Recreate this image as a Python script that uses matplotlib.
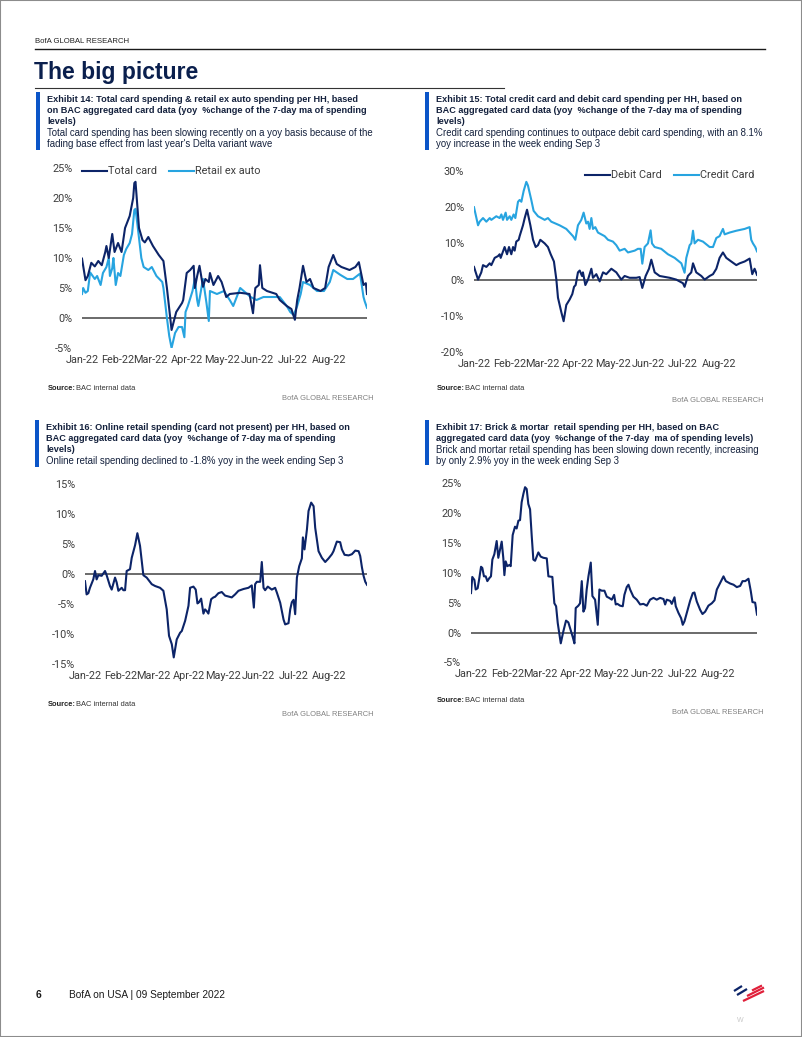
import numpy as np
import pandas as pd
import matplotlib
matplotlib.use('Agg')
import matplotlib.pyplot as plt
from matplotlib import font_manager
from matplotlib.lines import Line2D
from matplotlib.patches import Rectangle
from matplotlib.ticker import FuncFormatter

W, H = 802, 1037

# ---- data (days since 1 Jan 2022, yoy % change) ----
total_card_days = [0, 3, 5, 8, 11, 14, 17, 20, 21, 23, 26, 28, 31, 34, 37, 38, 41, 42, 44, 45,
                   46, 49, 52, 54, 57, 61, 66, 70, 73, 77, 81, 86, 87, 90, 93, 96, 97, 99, 101, 104,
                   106, 109, 110, 113, 117, 120, 124, 127, 136, 144, 147, 149, 152, 153, 155, 159, 167, 170, 176, 180,
                   183, 185, 187, 190, 193, 196, 199, 205, 209, 212, 216, 219, 223, 230, 235, 238, 242, 244, 245]
total_card_vals = [9.9, 6.3, 7.0, 9.2, 8.6, 9.5, 8.8, 11.0, 12.0, 10.0, 14.0, 11.0, 12.5, 11.0, 15.0, 15.5, 17.0, 18.0, 20.0, 22.5,
                   22.7, 15.0, 13.0, 12.6, 13.5, 12.0, 10.5, 9.5, 5.0, -2.0, 1.0, 2.5, 3.0, 7.5, 8.0, 8.7, 5.0, 7.0, 8.7, 5.2,
                   6.5, 6.0, 7.5, 5.5, 7.0, 6.0, 3.5, 4.0, 4.2, 4.0, 0.8, 5.0, 5.5, 8.8, 5.0, 4.5, 4.0, 3.0, 2.0, 1.5,
                   -0.3, 3.0, 5.0, 8.7, 6.0, 6.5, 5.0, 4.5, 5.0, 8.5, 10.5, 9.0, 8.5, 8.0, 8.5, 9.3, 5.5, 5.8, 4.0]

retail_days = [0, 1, 3, 5, 7, 11, 13, 16, 18, 21, 23, 24, 26, 27, 29, 31, 33, 36, 38, 41,
               43, 45, 46, 48, 51, 53, 57, 60, 64, 69, 70, 73, 75, 77, 80, 83, 86, 88, 89, 91,
               95, 97, 99, 100, 104, 107, 109, 110, 116, 122, 127, 130, 133, 136, 139, 145, 150, 156, 170, 176,
               179, 182, 185, 188, 190, 196, 202, 208, 213, 216, 222, 228, 233, 239, 242, 243, 245]
retail_vals = [4.0, 5.0, 4.2, 4.5, 7.6, 6.5, 7.0, 5.5, 7.5, 8.5, 10.0, 7.0, 8.3, 10.0, 5.5, 7.5, 7.0, 10.5, 11.5, 12.5,
               14.0, 18.0, 18.2, 15.0, 10.0, 8.5, 8.0, 8.5, 7.0, 6.0, 5.0, 0.0, -3.0, -5.0, -2.5, -1.5, -1.5, -3.2, 1.0, 2.0,
               4.5, 6.5, 3.0, 2.0, 6.5, 2.5, -0.5, 4.5, 4.0, 4.5, 3.0, 2.0, 3.5, 5.0, 4.5, 3.5, 3.0, 3.5, 3.5, 2.0,
               1.0, 0.5, 2.0, 4.0, 6.0, 5.5, 4.5, 4.5, 6.0, 8.0, 7.2, 6.5, 6.5, 7.4, 3.5, 2.8, 1.7]

debit_days = [0, 3.5, 4.9, 6.3, 7.8, 10.7, 13.6, 15.0, 17.9, 20.8, 22.2, 23.1, 26.5, 28.6, 30.3, 32.3, 33.8, 35.2, 36.6, 38.7,
              39.5, 42.4, 43.9, 45.9, 48.8, 51.1, 53.4, 55.4, 57.4, 61.2, 64.0, 66.4, 69.2, 71.3, 72.7, 75.6, 77.6, 79.9, 82.8, 85.1,
              86.6, 88.0, 90.0, 91.5, 93.5, 94.3, 96.4, 98.7, 101.6, 103.0, 105.9, 108.8, 111.7, 114.5, 118.9, 123.2, 127.5, 130.4, 134.7, 140.5,
              143.4, 145.7, 148.6, 151.5, 153.5, 156.4, 160.7, 169.4, 175.1, 178.0, 180.9, 182.3, 185.2, 188.1, 189.6, 192.4, 196.8, 199.7, 204.0, 206.9,
              209.8, 212.6, 215.5, 218.4, 222.7, 227.1, 230.0, 234.3, 238.6, 240.9, 242.9, 245.0]
debit_vals = [3.5, 0.0, 1.0, 2.0, 4.0, 3.5, 4.5, 4.0, 6.0, 6.5, 7.0, 6.0, 9.0, 7.0, 9.0, 7.0, 9.0, 8.0, 10.5, 11.0,
              12.0, 15.0, 17.0, 19.3, 15.0, 11.0, 9.0, 9.5, 11.0, 10.0, 9.0, 7.0, 5.0, 0.0, -5.0, -9.0, -11.5, -7.0, -5.5, -4.0,
              -2.0, -1.5, 2.0, 2.5, 1.0, 2.0, -1.5, 0.0, 3.0, 0.5, 1.5, -0.5, 2.0, 1.5, 3.0, 2.0, 0.0, 1.0, 0.5, 0.5,
              0.7, -2.3, 1.0, 3.0, 5.5, 2.0, 1.0, 0.5, 0.0, -0.5, -1.0, -2.0, 1.0, 2.0, 4.5, 2.0, 1.0, 0.0, 1.0, 1.5,
              3.0, 6.0, 7.5, 6.0, 5.0, 4.0, 4.5, 5.0, 5.8, 1.5, 3.0, 1.3]

credit_days = [0, 3.5, 4.9, 7.8, 10.7, 13.6, 15.0, 19.3, 22.2, 23.7, 25.1, 27.4, 28.6, 30.9, 32.3, 34.3, 35.8, 38.1, 39.5, 41.0,
               43.0, 45.3, 46.7, 49.6, 51.6, 55.4, 61.2, 64.0, 66.9, 74.1, 79.9, 85.7, 87.7, 90.0, 92.9, 94.9, 97.2, 98.7, 100.1, 101.6,
               103.0, 105.0, 107.3, 110.2, 113.1, 116.0, 120.3, 123.2, 126.1, 130.4, 133.3, 139.1, 141.9, 144.3, 145.7, 147.7, 150.6, 152.9, 154.1, 156.4,
               162.1, 167.9, 173.7, 179.5, 182.3, 183.8, 186.7, 188.1, 189.6, 191.0, 193.9, 198.2, 204.0, 206.9, 209.8, 212.6, 215.5, 217.0, 221.3, 227.1,
               234.3, 238.6, 240.0, 241.5, 243.5, 245.0]
credit_vals = [20.0, 15.0, 16.0, 17.0, 16.0, 17.0, 16.5, 17.5, 17.0, 18.0, 16.5, 18.5, 16.5, 17.5, 16.5, 18.0, 17.0, 21.5, 22.0, 21.5,
               24.5, 27.0, 26.0, 22.0, 19.0, 17.5, 16.5, 17.0, 16.0, 15.0, 14.0, 12.0, 11.0, 15.0, 16.5, 18.5, 15.5, 16.0, 14.0, 17.0,
               14.0, 14.5, 13.0, 12.5, 12.0, 11.0, 10.5, 9.5, 8.0, 8.5, 7.5, 8.0, 8.5, 8.5, 4.4, 9.0, 10.0, 13.6, 10.0, 9.0,
               8.5, 7.0, 6.0, 4.5, 1.9, 6.0, 9.5, 10.0, 13.5, 10.0, 11.0, 10.5, 9.0, 9.0, 11.5, 12.0, 14.0, 12.5, 13.0, 13.5,
               14.0, 14.5, 11.0, 10.0, 9.0, 7.8]

online_days = [0, 1.4, 2.9, 4.3, 7.2, 8.7, 10.1, 11.6, 14.5, 17.4, 18.8, 21.7, 23.2, 26.1, 27.5, 29.0, 31.9, 33.3, 34.8, 36.2,
               39.1, 40.6, 43.5, 45.5, 47.8, 50.7, 53.6, 58.0, 60.9, 65.2, 68.1, 71.0, 73.0, 75.4, 77.1, 79.7, 82.6, 84.1, 87.0, 89.9,
               91.3, 94.2, 96.2, 97.7, 99.1, 100.9, 102.9, 104.3, 105.8, 107.2, 109.6, 111.6, 113.0, 115.9, 118.8, 121.7, 127.5, 130.4, 133.3, 137.7,
               142.0, 144.9, 146.7, 147.8, 149.3, 152.2, 153.6, 155.1, 156.5, 158.8, 162.3, 165.2, 166.7, 169.6, 172.5, 173.9, 176.8, 178.3, 179.7, 181.2,
               182.6, 184.1, 186.1, 188.4, 189.3, 190.7, 192.8, 194.2, 196.5, 198.6, 200.0, 202.9, 205.8, 208.7, 211.6, 214.5, 215.9, 218.8, 221.7, 223.2,
               225.5, 229.0, 231.9, 234.8, 237.7, 239.1, 240.6, 242.0, 243.5, 245.0]
online_vals = [-1.2, -3.4, -3.2, -2.3, -0.9, 0.5, -0.9, -0.2, -0.3, 0.5, -0.2, -2.0, -2.6, -0.6, -1.4, -2.8, -2.3, -2.7, -2.7, 0.5,
               0.8, 2.7, 4.8, 6.8, 4.7, -0.2, -0.6, -1.7, -2.0, -2.3, -2.8, -5.9, -10.3, -11.7, -13.9, -10.9, -9.8, -9.5, -7.8, -5.3,
               -2.3, -2.1, -2.6, -4.9, -4.7, -4.1, -6.6, -5.9, -6.2, -6.6, -4.2, -3.9, -3.8, -3.2, -3.0, -3.6, -3.9, -3.4, -2.8, -2.5,
               -2.3, -1.9, -5.6, -1.7, -1.3, -1.3, 2.0, -2.3, -2.7, -2.1, -2.6, -2.3, -3.1, -4.8, -7.6, -8.4, -8.2, -5.9, -4.7, -4.3,
               -6.7, -0.6, 1.3, 2.6, 6.1, 4.1, 7.4, 10.5, 11.9, 11.3, 7.7, 3.8, 2.7, 2.0, 2.6, 3.3, 3.8, 5.4, 5.3, 4.1,
               3.2, 3.1, 3.3, 3.9, 3.8, 3.0, 1.1, -0.3, -1.3, -1.8]

brick_days = [0, 1.1, 2.9, 4.0, 5.7, 6.9, 8.6, 9.7, 11.1, 12.6, 14.0, 15.7, 17.1, 18.3, 20.0, 22.0, 23.4, 24.9, 26.3, 27.7,
              28.6, 29.7, 31.1, 32.9, 34.0, 35.7, 37.7, 39.1, 40.6, 42.0, 43.4, 44.9, 46.3, 47.7, 49.1, 50.6, 52.0, 53.4, 54.9, 57.7,
              59.7, 62.0, 64.9, 66.3, 69.7, 71.4, 72.9, 74.3, 76.9, 79.1, 81.4, 83.4, 85.7, 87.1, 88.6, 89.7, 92.0, 93.4, 94.9, 96.3,
              97.7, 99.1, 100.6, 102.6, 104.0, 106.3, 108.6, 110.0, 112.0, 114.3, 116.3, 118.3, 120.6, 122.6, 124.0, 125.4, 127.7, 130.0, 131.4, 133.4,
              134.9, 136.3, 139.1, 142.0, 144.9, 147.7, 150.6, 153.4, 156.3, 159.1, 162.0, 164.9, 166.3, 167.7, 170.6, 172.0, 174.3, 175.4, 177.7, 180.0,
              181.4, 182.9, 184.9, 187.7, 190.0, 191.4, 193.4, 196.3, 198.3, 200.6, 203.4, 206.3, 208.6, 210.6, 213.4, 216.3, 218.3, 222.0, 224.9, 227.7,
              230.6, 232.6, 234.9, 237.7, 239.7, 241.1, 243.4, 245.0]
brick_vals = [6.6, 9.3, 8.8, 7.2, 7.4, 8.8, 11.0, 10.8, 9.4, 9.4, 8.6, 9.1, 9.4, 12.2, 13.1, 15.3, 12.5, 13.9, 15.2, 12.4,
              9.6, 11.9, 11.1, 11.3, 11.1, 16.3, 17.7, 17.4, 18.7, 18.8, 21.8, 23.2, 24.3, 24.0, 21.5, 20.6, 16.2, 12.2, 12.0, 13.4,
              12.7, 12.5, 12.4, 9.4, 9.3, 4.9, 4.4, 1.6, -1.8, 0.2, 2.0, 1.7, 0.2, -0.7, -1.8, 4.1, 4.5, 4.9, 8.6, 3.5,
              4.1, 7.2, 9.4, 11.7, 6.1, 5.5, 1.3, 7.2, 7.0, 7.0, 6.0, 5.8, 5.5, 6.3, 4.7, 4.8, 4.5, 4.4, 6.3, 7.6,
              8.0, 7.2, 6.0, 5.5, 4.7, 4.8, 4.5, 5.5, 5.8, 5.5, 5.8, 5.6, 4.7, 5.5, 5.3, 4.8, 5.9, 4.4, 3.3, 2.4,
              1.3, 1.9, 3.3, 5.3, 6.6, 6.7, 5.2, 3.8, 3.1, 3.5, 4.5, 4.9, 5.4, 7.2, 8.3, 9.4, 8.6, 8.2, 8.0, 7.6,
              7.8, 8.6, 8.6, 9.0, 6.9, 5.1, 5.0, 3.0]

month_starts = pd.date_range('2022-01-01', '2022-08-01', freq='MS')
month_days = [(d - month_starts[0]).days for d in month_starts]
month_labels = [d.strftime('%b-%y') for d in month_starts]
last_day = (pd.Timestamp('2022-09-03') - month_starts[0]).days

NAVY = '#0c2468'
SKY = '#27a4e0'
ZERO = '#5f5f5f'
TICK = '#3d3d3d'
BLUEBAR = '#0b55c8'
TXT = '#14213d'


def first_font(names):
    for name in names:
        try:
            font_manager.findfont(font_manager.FontProperties(family=name), fallback_to_default=False)
            return name
        except ValueError:
            continue
    return 'DejaVu Sans'


CHART_FONT = first_font(['Liberation Sans Narrow', 'Roboto'])
CHART_SIZE = 8.8 if 'Narrow' in CHART_FONT else 7.8
TEXT_FONT = first_font(['Liberation Sans', 'Arial', 'DejaVu Sans'])

plt.rcParams['font.family'] = [CHART_FONT, 'DejaVu Sans']

fig = plt.figure(figsize=(W / 100, H / 100), dpi=100)


def fx(x):
    return x / W


def fy(y):
    return 1 - y / H


def text(x, y, s, **kw):
    kw.setdefault('family', TEXT_FONT)
    kw.setdefault('va', 'center')
    fig.text(fx(x), fy(y), s, **kw)


def hline(x0, x1, y, color, lw):
    fig.add_artist(Line2D([fx(x0), fx(x1)], [fy(y), fy(y)], color=color, lw=lw))


def draw_chart(x0, y0, x1, y1, ylim, yticks, series):
    ax = fig.add_axes([fx(x0), fy(y1), (x1 - x0) / W, (y1 - y0) / H])
    ax.axhline(0, color=ZERO, lw=1.3, zorder=1)
    for days, vals, color, label, z in series:
        ax.plot(days, vals, color=color, lw=1.5, label=label, zorder=z, solid_joinstyle='round')
    ax.set_xlim(0, last_day)
    ax.set_ylim(*ylim)
    ax.set_yticks(yticks)
    ax.yaxis.set_major_formatter(FuncFormatter(lambda v, p: f'{v:.0f}%'))
    ax.set_xticks(month_days)
    ax.set_xticklabels(month_labels)
    for s in ax.spines.values():
        s.set_visible(False)
    ax.patch.set_visible(False)
    ax.tick_params(axis='both', length=0, labelsize=CHART_SIZE, labelcolor=TICK)
    ax.tick_params(axis='y', pad=7)
    ax.tick_params(axis='x', pad=5)
    return ax


def exhibit_header(x, y_top, title_lines, sub_lines, bar_bottom):
    fig.add_artist(Rectangle((fx(x), fy(bar_bottom)), 3.5 / W, (bar_bottom - y_top) / H,
                             color=BLUEBAR, lw=0))
    y = y_top + 7
    for line in title_lines:
        text(x + 11, y, line, fontsize=6.6, fontweight='bold', color=TXT)
        y += 11.3
    for line in sub_lines:
        text(x + 11, y, line, fontsize=6.9, color=TXT)
        y += 11.2


def source_block(x, y, right, y_brand):
    text(x, y, 'Source:', fontsize=5.4, fontweight='bold', color='#222222')
    text(x + 28, y, 'BAC internal data', fontsize=5.4, color='#333333')
    text(right, y_brand, 'BofA GLOBAL RESEARCH', fontsize=5.4, color='#808080', ha='right')


# ---- page furniture ----
fig.add_artist(Rectangle((0, 0), 1, 1, fill=False, edgecolor='#8c8c8c', lw=1.5))
text(35, 41.5, 'BofA GLOBAL RESEARCH', fontsize=5.6, color='#222222')
hline(35, 765, 48.5, '#1a1a1a', 1.0)
text(34, 73, 'The big picture', fontsize=16.5, fontweight='bold', color='#0a1f4d')
hline(35, 504, 87.5, '#333333', 0.8)

# ---- Exhibit 14 ----
exhibit_header(36, 92, ['Exhibit 14: Total card spending & retail ex auto spending per HH, based',
                        'on BAC aggregated card data (yoy  %change of the 7-day ma of spending',
                        'levels)'],
               ['Total card spending has been slowing recently on a yoy basis because of the',
                "fading base effect from last year's Delta variant wave"], 150)
ax1 = draw_chart(82, 168, 367, 348, (-5, 25), range(-5, 30, 5),
                 [(total_card_days, total_card_vals, NAVY, 'Total card', 3),
                  (retail_days, retail_vals, SKY, 'Retail ex auto', 2)])
ax1.legend(loc='upper left', bbox_to_anchor=(fx(82), fy(166.5)), bbox_transform=fig.transFigure,
           ncol=2, frameon=False, fontsize=CHART_SIZE, handlelength=2.3, handletextpad=0.1,
           columnspacing=1.1, borderpad=0, borderaxespad=0, labelcolor=TICK)
source_block(48, 388, 374, 398)

# ---- Exhibit 15 ----
exhibit_header(425, 92, ['Exhibit 15: Total credit card and debit card spending per HH, based on',
                         'BAC aggregated card data (yoy  %change of the 7-day ma of spending',
                         'levels)'],
               ['Credit card spending continues to outpace debit card spending, with an 8.1%',
                'yoy increase in the week ending Sep 3'], 150)
ax2 = draw_chart(474, 171, 757, 352, (-20, 30), range(-20, 40, 10),
                 [(debit_days, debit_vals, NAVY, 'Debit Card', 3),
                  (credit_days, credit_vals, SKY, 'Credit Card', 2)])
ax2.legend(loc='upper right', bbox_to_anchor=(fx(754), fy(170.5)), bbox_transform=fig.transFigure,
           ncol=2, frameon=False, fontsize=CHART_SIZE, handlelength=2.3, handletextpad=0.1,
           columnspacing=1.1, borderpad=0, borderaxespad=0, labelcolor=TICK)
source_block(437, 389, 763, 400.5)

# ---- Exhibit 16 ----
exhibit_header(35, 420, ['Exhibit 16: Online retail spending (card not present) per HH, based on',
                         'BAC aggregated card data (yoy  %change of 7-day ma of spending',
                         'levels)'],
               ['Online retail spending declined to -1.8% yoy in the week ending Sep 3'], 467)
draw_chart(85, 484, 367, 664, (-15, 15), range(-15, 20, 5),
           [(online_days, online_vals, NAVY, 'Online', 3)])
source_block(48, 704, 374, 714)

# ---- Exhibit 17 ----
exhibit_header(425, 420, ['Exhibit 17: Brick & mortar  retail spending per HH, based on BAC',
                          'aggregated card data (yoy  %change of the 7-day  ma of spending levels)'],
               ['Brick and mortar retail spending has been slowing down recently, increasing',
                'by only 2.9% yoy in the week ending Sep 3'], 465)
draw_chart(471, 483, 757, 662.5, (-5, 25), range(-5, 30, 5),
           [(brick_days, brick_vals, NAVY, 'Brick & mortar', 3)])
source_block(437, 701, 763, 712.5)

# ---- footer ----
text(36, 995, '6', fontsize=7.5, fontweight='bold', color='#1a1a1a')
text(69, 995, 'BofA on USA | 09 September 2022', fontsize=7.3, color='#1a1a1a')
for (xa, ya, xb, yb, c) in [(734, 991, 742, 986, '#0c2468'), (737, 995, 747, 989, '#0c2468'),
                            (743, 1001, 764, 991, '#e0203a'), (747, 996, 764, 987.5, '#e0203a'),
                            (752, 990.5, 762, 985.5, '#e0203a')]:
    fig.add_artist(Line2D([fx(xa), fx(xb)], [fy(ya), fy(yb)], color=c, lw=1.6, solid_capstyle='butt'))
text(737, 1021, 'W', fontsize=5, color='#c8c8c8')

fig.savefig('out.png', dpi=100)
